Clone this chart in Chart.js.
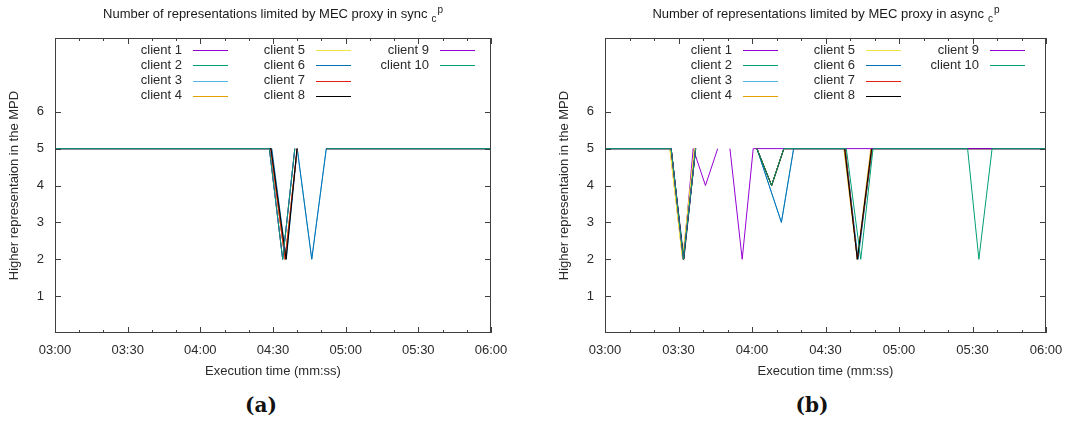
<!DOCTYPE html>
<html>
<head>
<meta charset="utf-8">
<script src="https://cdn.jsdelivr.net/npm/chart.js@4.4.0/dist/chart.umd.min.js"></script>
<style>
    body { margin: 0; width: 1065px; height: 424px; background: #fff; position: relative; overflow: hidden; font-family: "Liberation Sans", Arial, sans-serif; }
    canvas { position: absolute; top: 0; }
    #chartA { left: 0; }
    #chartB { left: 550px; }
    .title { position: absolute; top: 6px; font-size: 13px; line-height: 15px; color: #1a1a1a; white-space: nowrap; transform: translateX(-50%); }
    .title .sub { font-size: 10px; position: relative; top: 4px; margin-left: 4px; }
    .title .sup { font-size: 10px; position: relative; top: -5px; margin-left: 1px; }
    .caption { position: absolute; top: 394px; font-family: "DejaVu Serif", serif; font-weight: bold; font-size: 20px; line-height: 23px; color: #111; transform: translateX(-50%); }
</style>
</head>
<body>
<canvas id="chartA" width="530" height="385"></canvas>
<canvas id="chartB" width="515" height="385"></canvas>
<div class="title" style="left:273px">Number of representations limited by MEC proxy in sync<span class="sub">c</span><span class="sup">p</span></div>
<div class="title" style="left:826px">Number of representations limited by MEC proxy in async<span class="sub">c</span><span class="sup">p</span></div>
<div class="caption" style="left:261px">(a)</div>
<div class="caption" style="left:812px">(b)</div>
<script>
document.addEventListener('DOMContentLoaded', function() {

    const clientNames = ['client 1', 'client 2', 'client 3', 'client 4', 'client 5',
                         'client 6', 'client 7', 'client 8', 'client 9', 'client 10'];
    const clientColors = ['#9400d3', '#009e73', '#56b4e9', '#e69f00', '#f0e442',
                          '#0072b2', '#e51e10', '#000000', '#9400d3', '#009e73'];

    // tiempos en segundos, [tiempo, representación] (null = sin datos)
    // (a) sync
    const syncC1  = [[180, 5], [269, 5], [275, 2], [280, 5], [285, null], [292, 5], [360, 5]];
    const syncC2  = [[180, 5], [268.5, 5], [274, 2], [279, 5], [285, null], [292, 5], [360, 5]];
    const syncC3  = [[180, 5], [269, 5], [275, 2], [280, 5], [286, 2], [292, 5], [360, 5]];
    const syncC4  = [[180, 5], [269, 5], [275, 2], [280, 5], [285, null], [292, 5], [360, 5]];
    const syncC5  = [[180, 5], [269, 5], [275, 2], [280, 5], [285, null], [292, 5], [360, 5]];
    const syncC6  = [[180, 5], [269.5, 5], [275.5, 2], [280, 5], [286, 2], [292, 5], [360, 5]];
    const syncC7  = [[180, 5], [269, 5], [275, 2], [280, 5], [285, null], [292, 5], [360, 5]];
    const syncC8  = [[180, 5], [269.2, 5], [275.4, 2], [279.9, 5], [285, null], [292, 5], [360, 5]];
    const syncC9  = [[180, 5], [268.5, 5], [274, 2], [279, 5], [285, null], [292, 5], [360, 5]];
    const syncC10 = [[180, 5], [268.5, 5], [274, 2], [279, 5], [285, null], [292, 5], [360, 5]];

    // (b) async
    const asyncC1  = [[180, 5], [207, 5], [212, 2], [216, 5], [221, 4], [226, 5], [228, null],
                      [231, 5], [236, 2], [240.5, 5], [242, 5], [248, 4], [253, 5], [278, 5], [283, 2], [289, 5], [360, 5]];
    const asyncC2  = [[180, 5], [207, 5], [212, 2], [217, 5], [229, null], [242, 5], [248, 4], [253, 5], [278, 5], [283, 2], [289, 5], [360, 5]];
    const asyncC3  = [[180, 5], [207, 5], [212, 2], [217, 5], [229, null], [242, 5], [247, 4], [252, 3], [257, 5], [278, 5], [283, 2], [289, 5], [360, 5]];
    const asyncC4  = [[180, 5], [206.5, 5], [211.7, 2], [216.5, 5], [229, null], [242, 5], [248, 4], [253, 5], [277.5, 5], [283, 2], [288.5, 5], [360, 5]];
    const asyncC5  = [[180, 5], [206.5, 5], [211.7, 2], [216.5, 5], [229, null], [242, 5], [248, 4], [253, 5], [278, 5], [283, 2], [289, 5], [360, 5]];
    const asyncC6  = [[180, 5], [207, 5], [212, 2], [217, 5], [229, null], [242, 5], [247, 4], [252, 3], [257, 5], [278, 5], [283.3, 2], [289, 5], [360, 5]];
    const asyncC7  = [[180, 5], [207, 5], [212, 2], [217, 5], [229, null], [242, 5], [248, 4], [253, 5], [278, 5], [283, 2], [289, 5], [360, 5]];
    const asyncC8  = [[180, 5], [207, 5], [212.2, 2], [217, 5], [229, null], [242, 5], [248, 4], [253, 5], [277.8, 5], [283, 2], [288.8, 5], [360, 5]];
    const asyncC9  = [[180, 5], [207, 5], [212, 2], [217, 5], [229, null], [242, 5], [360, 5]];
    const asyncC10 = [[180, 5], [207, 5], [212, 2], [217, 5], [229, null], [242, 5], [248, 4], [253, 5], [278.5, 5], [284.4, 2], [289.4, 5],
                      [328, 5], [332.6, 2], [338, 5], [360, 5]];

    const xTickValues = [180, 210, 240, 270, 300, 330, 360];
    const xTickLabels = ['03:00', '03:30', '04:00', '04:30', '05:00', '05:30', '06:00'];
    const yTickValues = [1, 2, 3, 4, 5, 6];
    const yTickLabels = ['1', '2', '3', '4', '5', '6'];

    const textFont = { family: '"Liberation Sans", Arial, sans-serif', size: 13 };
    const textColor = '#2a2a2a';

    // Marco y marcas hacia dentro (estilo gnuplot)
    const framePlugin = {
        id: 'frame',
        afterDatasetsDraw(chart) {
            const c = chart.ctx;
            const a = chart.chartArea;
            const xs = chart.scales.x;
            const ys = chart.scales.y;
            c.save();
            c.strokeStyle = '#404040';
            c.lineWidth = 1;
            c.beginPath();
            xTickValues.forEach(v => {
                const px = Math.round(xs.getPixelForValue(v)) + 0.5;
                c.moveTo(px, a.bottom); c.lineTo(px, a.bottom - 6);
                c.moveTo(px, a.top); c.lineTo(px, a.top + 6);
            });
            for (let v = xs.min + 10; v < xs.max; v += 10) {
                if (xTickValues.includes(v)) continue;
                const px = Math.round(xs.getPixelForValue(v)) + 0.5;
                c.moveTo(px, a.bottom); c.lineTo(px, a.bottom - 3);
                c.moveTo(px, a.top); c.lineTo(px, a.top + 3);
            }
            yTickValues.forEach(v => {
                const py = Math.round(ys.getPixelForValue(v)) + 0.5;
                c.moveTo(a.left, py); c.lineTo(a.left + 6, py);
                c.moveTo(a.right, py); c.lineTo(a.right - 6, py);
            });
            c.stroke();
            c.strokeRect(a.left + 0.5, a.top + 0.5, a.right - a.left - 1, a.bottom - a.top - 1);
            c.restore();
        }
    };

    // Leyenda en tres columnas dentro del área
    const keyPlugin = {
        id: 'key',
        afterDraw(chart) {
            const c = chart.ctx;
            const a = chart.chartArea;
            const colText = [127, 250, 374];
            c.save();
            c.font = '13px "Liberation Sans", Arial, sans-serif';
            c.fillStyle = '#2a2a2a';
            c.textAlign = 'right';
            c.textBaseline = 'middle';
            chart.data.datasets.forEach((ds, i) => {
                const col = Math.floor(i / 4);
                const row = i % 4;
                const tx = a.left + colText[col];
                const ty = a.top + 12 + row * 15.3;
                c.fillText(ds.label, tx, ty);
                c.strokeStyle = ds.borderColor;
                c.lineWidth = 1;
                c.beginPath();
                const ly = Math.round(ty) + 0.5;
                c.moveTo(tx + 11, ly);
                c.lineTo(tx + 46, ly);
                c.stroke();
            });
            c.restore();
        }
    };

    function makeChart(canvasId, series, padRight) {
        const ctx = document.getElementById(canvasId).getContext('2d');
        return new Chart(ctx, {
            type: 'line',
            data: {
                datasets: series.map((pts, i) => ({
                    label: clientNames[i],
                    data: pts.map(p => ({ x: p[0], y: p[1] })),
                    borderColor: clientColors[i],
                    backgroundColor: clientColors[i],
                    borderWidth: 1,
                    pointRadius: 0,
                    tension: 0,
                    fill: false,
                    spanGaps: false,
                    order: series.length - 1 - i
                }))
            },
            options: {
                responsive: false,
                animation: false,
                events: [],
                layout: { padding: { left: 0, right: padRight, top: 38, bottom: 0 } },
                plugins: {
                    legend: { display: false },
                    tooltip: { enabled: false },
                    title: { display: false }
                },
                scales: {
                    x: {
                        type: 'linear',
                        min: 180,
                        max: 360,
                        afterFit: s => { s.height = 52; s.paddingLeft = 0; s.paddingRight = 0; },
                        grid: { display: false, drawTicks: false },
                        border: { display: false },
                        ticks: {
                            stepSize: 30,
                            padding: 10,
                            autoSkip: false,
                            maxRotation: 0,
                            color: textColor,
                            font: textFont,
                            callback: v => {
                                const k = xTickValues.indexOf(v);
                                return k !== -1 ? xTickLabels[k] : '';
                            }
                        },
                        title: {
                            display: true,
                            text: 'Execution time (mm:ss)',
                            color: textColor,
                            font: textFont,
                            padding: { top: 0, bottom: 6 }
                        }
                    },
                    y: {
                        min: 0,
                        max: 8,
                        afterFit: s => { s.width = 55; s.paddingTop = 0; s.paddingBottom = 0; },
                        grid: { display: false, drawTicks: false },
                        border: { display: false },
                        ticks: {
                            stepSize: 1,
                            padding: 11,
                            color: textColor,
                            font: textFont,
                            callback: v => {
                                const k = yTickValues.indexOf(v);
                                return k !== -1 ? yTickLabels[k] : '';
                            }
                        },
                        title: {
                            display: true,
                            text: 'Higher representaion in the MPD',
                            color: textColor,
                            font: textFont,
                            padding: { top: 7, bottom: 0 }
                        }
                    }
                }
            },
            plugins: [framePlugin, keyPlugin]
        });
    }

    makeChart('chartA', [syncC1, syncC2, syncC3, syncC4, syncC5, syncC6, syncC7, syncC8, syncC9, syncC10], 39);
    makeChart('chartB', [asyncC1, asyncC2, asyncC3, asyncC4, asyncC5, asyncC6, asyncC7, asyncC8, asyncC9, asyncC10], 19);
});
</script>
</body>
</html>
